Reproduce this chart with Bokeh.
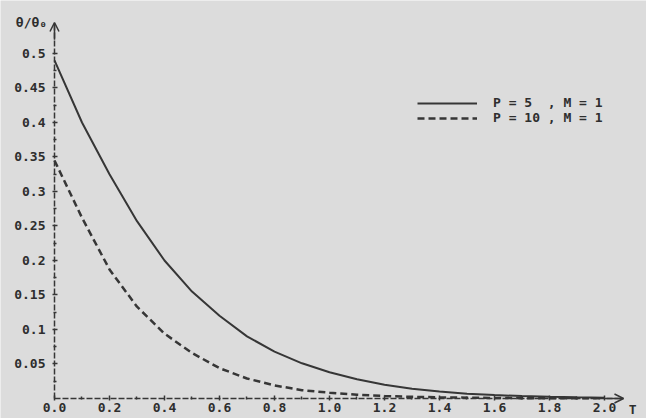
from bokeh.plotting import figure
from bokeh.models import (Range1d, LinearAxis, FixedTicker, Arrow, OpenHead, Label,
                          Legend, LegendItem, CustomJSTickFormatter)
from bokeh.embed import file_html
from bokeh.resources import INLINE

# ---- data ----
t = [0.0, 0.1, 0.2, 0.3, 0.4, 0.5, 0.6, 0.7, 0.8, 0.9, 1.0,
     1.1, 1.2, 1.3, 1.4, 1.5, 1.6, 1.7, 1.8, 1.9, 2.0]
theta_p5 = [0.49, 0.40, 0.325, 0.257, 0.2, 0.155, 0.12, 0.09, 0.068, 0.051, 0.038,
            0.028, 0.02, 0.014, 0.01, 0.007, 0.005, 0.0035, 0.0025, 0.0018, 0.0012]
theta_p10 = [0.345, 0.262, 0.187, 0.133, 0.094, 0.066, 0.044, 0.029, 0.019, 0.012, 0.0085,
             0.0055, 0.0035, 0.0025, 0.0017, 0.0012, 0.0008, 0.0005, 0.0004, 0.0003, 0.0002]

series_labels = ["P = 5\u00a0\u00a0, M = 1", "P = 10 , M = 1"]

y_ticks = [0.05, 0.1, 0.15, 0.2, 0.25, 0.3, 0.35, 0.4, 0.45, 0.5]
y_tick_labels = ["0.05", "0.1", "0.15", "0.2", "0.25", "0.3", "0.35", "0.4", "0.45", "0.5"]
y_minor = [0.025, 0.075, 0.125, 0.175, 0.225, 0.275, 0.325, 0.375, 0.425, 0.475]

x_ticks = [0.0, 0.2, 0.4, 0.6, 0.8, 1.0, 1.2, 1.4, 1.6, 1.8, 2.0]
x_tick_labels = ["0.0", "0.2", "0.4", "0.6", "0.8", "1.0", "1.2", "1.4", "1.6", "1.8", "2.0"]
x_minor = [0.1, 0.3, 0.5, 0.7, 0.9, 1.1, 1.3, 1.5, 1.7, 1.9]

y_title = "θ/θ₀"
x_title = "T"

INK = "#363636"
BG = "#dcdcdc"
FONT = "DejaVu Sans Mono"
FS = "13px"

p = figure(width=646, height=418, output_backend="svg", toolbar_location=None,
           x_range=Range1d(-0.19636, 2.15273), y_range=Range1d(-0.02899, 0.57681),
           x_axis_location=None, y_axis_location=None, min_border=0)
p.background_fill_color = BG
p.border_fill_color = BG
p.outline_line_color = None
p.xgrid.grid_line_color = None
p.ygrid.grid_line_color = None

fmt_code = ("const i = tks.findIndex(v => Math.abs(v - tick) < 1e-9);"
            "return i >= 0 ? lbls[i] : '';")


def style_axis(ax, standoff):
    ax.axis_line_color = INK
    ax.axis_line_width = 1.5
    ax.axis_line_dash = "6 2"
    ax.major_tick_line_color = INK
    ax.major_tick_line_width = 1.5
    ax.minor_tick_line_color = INK
    ax.minor_tick_line_width = 1.5
    ax.major_tick_in = 3
    ax.major_tick_out = 2
    ax.minor_tick_in = 2
    ax.minor_tick_out = 1
    ax.major_label_text_font = FONT
    ax.major_label_text_font_style = "bold"
    ax.major_label_text_font_size = FS
    ax.major_label_text_color = "#2e2e2e"
    ax.major_label_standoff = standoff


yaxis = LinearAxis(fixed_location=0, bounds=(0, 0.5449),
                   ticker=FixedTicker(ticks=y_ticks, minor_ticks=y_minor),
                   formatter=CustomJSTickFormatter(args=dict(tks=y_ticks, lbls=y_tick_labels),
                                                   code=fmt_code))
style_axis(yaxis, 7)
p.add_layout(yaxis, "left")

xaxis = LinearAxis(fixed_location=0, bounds=(0, 2.069),
                   ticker=FixedTicker(ticks=x_ticks, minor_ticks=x_minor),
                   formatter=CustomJSTickFormatter(args=dict(tks=x_ticks, lbls=x_tick_labels),
                                                   code=fmt_code))
style_axis(xaxis, 3)
p.add_layout(xaxis, "below")

p.add_layout(Arrow(end=OpenHead(size=9, line_color=INK, line_width=1.5),
                   x_start=0, y_start=0.52, x_end=0, y_end=0.5449,
                   line_color=INK, line_width=1.5))
p.add_layout(Arrow(end=OpenHead(size=9, line_color=INK, line_width=1.5),
                   x_start=2.0, y_start=0, x_end=2.069, y_end=0,
                   line_color=INK, line_width=1.5))

r1 = p.line(t, theta_p5, line_color=INK, line_width=2)
r2 = p.line(t, theta_p10, line_color=INK, line_width=2.5, line_dash="7 4")

p.add_layout(Label(x=-0.0836, y=0.5449, text=y_title, text_align="center",
                   text_baseline="middle", text_font=FONT, text_font_style="bold",
                   text_font_size=FS, text_color="#2e2e2e"))
p.add_layout(Label(x=2.102, y=-0.0159, text=x_title, text_align="center",
                   text_baseline="middle", text_font=FONT, text_font_style="bold",
                   text_font_size=FS, text_color="#2e2e2e"))

for lab, rend, ypos in [(series_labels[0], r1, 308), (series_labels[1], r2, 293)]:
    leg = Legend(items=[LegendItem(label=lab, renderers=[rend])],
                 location=(417, ypos), padding=0, margin=0, spacing=0,
                 glyph_width=60, glyph_height=12, label_height=12, label_standoff=16,
                 label_text_font=FONT, label_text_font_style="bold",
                 label_text_font_size=FS, label_text_color="#2e2e2e",
                 background_fill_alpha=0, border_line_color=None)
    p.add_layout(leg)

open("out.html", "w").write(file_html(p, INLINE))
